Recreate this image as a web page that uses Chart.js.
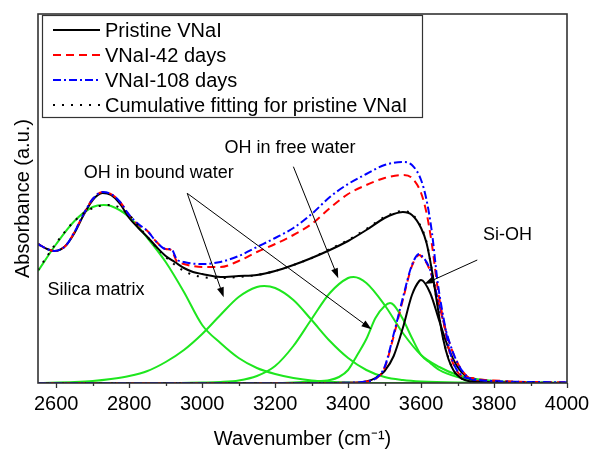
<!DOCTYPE html>
<html><head><meta charset="utf-8">
<script src="https://cdn.jsdelivr.net/npm/chart.js@4.4.1/dist/chart.umd.min.js"></script>
<style>html,body{margin:0;padding:0;background:#fff}</style>
</head><body>
<canvas id="c" width="589" height="451" style="display:block"></canvas>
<script>
// ---------- data (absorbance, a.u.) ----------
const pristineWn = [2550,2575,2595,2625,2650,2675,2700,2727,2750,2775,2800,2825,2850,2875,2900,2925,2950,2975,3000,3050,3100,3150,3200,3250,3300,3350,3400,3450,3500,3525,3550,3575,3600,3615,3630,3645,3660,3675,3690,3705,3720,3740,3800,4000];
const pristineAbs = [1.39,1.34,1.32,1.37,1.50,1.68,1.83,1.90,1.88,1.79,1.65,1.55,1.46,1.36,1.27,1.21,1.15,1.11,1.09,1.06,1.07,1.08,1.12,1.18,1.25,1.33,1.42,1.53,1.65,1.69,1.71,1.68,1.55,1.40,1.12,0.77,0.45,0.24,0.12,0.06,0.03,0.013,0.005,0];

const agedWn = [2550,2575,2595,2625,2650,2675,2700,2727,2750,2775,2800,2825,2850,2875,2900,2915,2930,2950,3000,3050,3100,3150,3200,3250,3300,3350,3400,3450,3500,3550,3575,3600,3615,3630,3645,3665,3680,3695,3710,3725,3740,3760,3800,3850,3900,4000];
const days42Abs = [1.39,1.34,1.32,1.37,1.51,1.69,1.84,1.91,1.89,1.81,1.68,1.58,1.52,1.41,1.34,1.33,1.22,1.19,1.16,1.16,1.22,1.31,1.39,1.48,1.59,1.75,1.89,1.98,2.05,2.08,2.05,1.90,1.70,1.38,0.96,0.55,0.28,0.14,0.07,0.05,0.05,0.035,0.025,0.015,0.01,0.008];
const days108Abs = [1.39,1.34,1.32,1.37,1.51,1.69,1.84,1.91,1.89,1.81,1.68,1.59,1.52,1.41,1.34,1.34,1.24,1.21,1.19,1.21,1.27,1.36,1.45,1.55,1.69,1.86,1.99,2.09,2.18,2.21,2.18,2.03,1.83,1.50,1.02,0.58,0.30,0.15,0.08,0.05,0.045,0.03,0.02,0.013,0.01,0.008];

const fitWn = [2550,2600,2650,2700,2750,2800,2825,2850,2900,2950,3000,3050,3100,3150,3200,3250,3300,3350,3400,3450,3500,3550,3575,3600,3615,3630,3645,3660,3675,3690,3705,3720,3740,3800,4000];
const fitAbs = [1.13,1.40,1.62,1.75,1.78,1.68,1.57,1.46,1.26,1.12,1.06,1.05,1.06,1.08,1.12,1.18,1.25,1.34,1.43,1.54,1.66,1.72,1.69,1.56,1.41,1.12,0.78,0.46,0.25,0.12,0.06,0.03,0.01,0.005,0];

// fitted components
const silicaWn = [2550,2600,2650,2700,2730,2750,2800,2850,2900,2950,3000,3050,3100,3150,3200,3250,3300,3350,3400,3500,4000];
const silicaAbs = [1.12,1.39,1.62,1.76,1.78,1.77,1.66,1.45,1.21,0.91,0.58,0.40,0.25,0.15,0.09,0.05,0.025,0.012,0.005,0,0];

const boundWn = [2550,2650,2700,2750,2800,2850,2900,2950,3000,3050,3100,3150,3170,3200,3250,3300,3350,3400,3450,3500,3550,3600,3700,4000];
const boundAbs = [0,0.01,0.02,0.04,0.07,0.12,0.21,0.33,0.49,0.68,0.86,0.96,0.97,0.95,0.83,0.63,0.42,0.25,0.13,0.06,0.03,0.015,0.005,0];

const freeWn = [2550,2900,3000,3050,3100,3150,3200,3250,3300,3350,3400,3415,3450,3500,3550,3600,3650,3700,3750,3800,3900,4000];
const freeAbs = [0,0,0.005,0.01,0.025,0.07,0.17,0.37,0.64,0.90,1.05,1.06,1.00,0.78,0.50,0.28,0.16,0.08,0.04,0.02,0.005,0];

const bound2Wn = [2550,3200,3250,3300,3350,3375,3400,3425,3450,3475,3500,3515,3525,3550,3575,3600,3625,3650,3700,3750,3800,3900,4000];
const bound2Abs = [0,0,0.005,0.015,0.03,0.06,0.13,0.28,0.44,0.65,0.77,0.80,0.78,0.64,0.45,0.28,0.20,0.13,0.06,0.03,0.015,0.005,0];

const siohWn = [2550,3300,3400,3450,3475,3500,3525,3550,3575,3595,3600,3625,3650,3675,3700,3725,3750,3800,4000];
const siohPristine = [0,0,0.002,0.015,0.05,0.12,0.27,0.55,0.88,1.02,1.03,0.90,0.62,0.35,0.16,0.06,0.02,0.003,0];
const siohDays42 = [0,0,0.003,0.015,0.04,0.15,0.47,0.83,1.17,1.28,1.27,1.12,0.77,0.43,0.20,0.07,0.02,0.004,0];
const siohDays108 = [0,0,0.003,0.015,0.045,0.16,0.49,0.85,1.18,1.29,1.28,1.13,0.78,0.44,0.20,0.07,0.02,0.004,0];

const xMajorTicks = [2600,2800,3000,3200,3400,3600,3800,4000];
const xMinorTicks = [2600,2700,2800,2900,3000,3100,3200,3300,3400,3500,3600,3700,3800,3900,4000];

const seriesLabels = ['Pristine VNaI','VNaI-42 days','VNaI-108 days','Cumulative fitting for pristine VNaI'];

// annotations (text and arrows, in data coordinates)
const noteTexts = ['Silica matrix','OH in bound water','OH in free water','Si-OH'];
const noteWn = [2576, 2881, 3241, 3837];
const noteAbs = [0.93, 2.10, 2.35, 1.48];
const arrowFrom = [[2959,1.897],[2959,1.897],[3250,2.163],[3754,1.23]];
const arrowTo = [[3059,0.857],[3464,0.537],[3373,1.047],[3609,0.99]];

// ---------- chart ----------
const FONT = '"Liberation Sans", Arial, Helvetica, sans-serif';
const pts = (xs, ys) => xs.map((x, i) => ({x, y: ys[i]}));
const GREEN = '#1ee61e';

function line(label, xs, ys, color, dash, width) {
  return {label, data: pts(xs, ys), borderColor: color, backgroundColor: color,
    borderWidth: width || 2, borderDash: dash || [], pointRadius: 0, fill: false,
    cubicInterpolationMode: 'monotone', borderCapStyle: 'butt'};
}

const DOT = [2, 7], DASH = [8, 5], DASHDOT = [8, 3, 2, 3];
const datasets = [
  line(seriesLabels[3], fitWn, fitAbs, '#000', DOT, 2),
  line(seriesLabels[2], agedWn, days108Abs, '#0000ff', DASHDOT, 2),
  line(seriesLabels[1], agedWn, days42Abs, '#ff0000', DASH, 2),
  line(seriesLabels[0], pristineWn, pristineAbs, '#000', [], 2),
  line('Si-OH 108 days', siohWn, siohDays108, '#0000ff', DASHDOT, 2),
  line('Si-OH 42 days', siohWn, siohDays42, '#ff0000', DASH, 2),
  line('Si-OH pristine', siohWn, siohPristine, '#000', [], 2),
  line('Silica matrix', silicaWn, silicaAbs, GREEN, [], 2),
  line('OH bound water 1', boundWn, boundAbs, GREEN, [], 2),
  line('OH free water', freeWn, freeAbs, GREEN, [], 2),
  line('OH bound water 2', bound2Wn, bound2Abs, GREEN, [], 2)
];
const legendOrder = [3, 2, 1, 0];

function arrow(ctx, x1, y1, x2, y2) {
  const a = Math.atan2(y2 - y1, x2 - x1), L = 10, W = 3.5;
  const c = Math.cos(a), s = Math.sin(a);
  ctx.beginPath(); ctx.moveTo(x1, y1); ctx.lineTo(x2 - L * c * 0.7, y2 - L * s * 0.7); ctx.stroke();
  ctx.beginPath(); ctx.moveTo(x2, y2);
  ctx.lineTo(x2 - L * c + W * s, y2 - L * s - W * c);
  ctx.lineTo(x2 - L * c - W * s, y2 - L * s + W * c);
  ctx.closePath(); ctx.fill();
}

const deco = {
  id: 'deco',
  afterDraw(chart) {
    const ctx = chart.ctx, a = chart.chartArea, xs = chart.scales.x, ys = chart.scales.y;
    ctx.save();
    // annotations
    ctx.fillStyle = '#000'; ctx.strokeStyle = '#000'; ctx.lineWidth = 1;
    ctx.font = '18px ' + FONT; ctx.textBaseline = 'middle';
    noteTexts.forEach((t, i) => {
      ctx.textAlign = i === 0 ? 'left' : 'center';
      ctx.fillText(t, xs.getPixelForValue(noteWn[i]), ys.getPixelForValue(noteAbs[i]));
    });
    arrowFrom.forEach((f, i) => {
      const t = arrowTo[i];
      arrow(ctx, xs.getPixelForValue(f[0]), ys.getPixelForValue(f[1]), xs.getPixelForValue(t[0]), ys.getPixelForValue(t[1]));
    });
    // frame
    ctx.strokeStyle = '#333'; ctx.lineWidth = 1.6;
    ctx.strokeRect(a.left, a.top, a.right - a.left, a.bottom - a.top);
    // ticks (outward)
    ctx.lineWidth = 1.3;
    xMinorTicks.forEach(v => {
      const px = Math.round(xs.getPixelForValue(v)) + 0.5;
      const len = xMajorTicks.includes(v) ? 5 : 3;
      ctx.beginPath(); ctx.moveTo(px, a.bottom); ctx.lineTo(px, a.bottom + len); ctx.stroke();
    });
    // legend
    const lx = a.left + 4, ly = a.top + 1, lw = 380, lh = 102;
    ctx.fillStyle = '#fff'; ctx.fillRect(lx, ly, lw, lh);
    ctx.strokeStyle = '#333'; ctx.lineWidth = 1.2; ctx.strokeRect(lx + 0.5, ly + 0.5, lw, lh);
    ctx.font = '20px ' + FONT; ctx.textAlign = 'left'; ctx.textBaseline = 'middle';
    legendOrder.forEach((di, r) => {
      const ds = chart.data.datasets[di];
      const cy = ly + 15 + r * 25;
      ctx.strokeStyle = ds.borderColor; ctx.lineWidth = 2; ctx.setLineDash(ds.borderDash);
      ctx.beginPath(); ctx.moveTo(lx + 11, cy); ctx.lineTo(lx + 58, cy); ctx.stroke();
      ctx.setLineDash([]);
      ctx.fillStyle = '#000'; ctx.fillText(ds.label, lx + 63, cy + 1);
    });
    ctx.restore();
  }
};

new Chart(document.getElementById('c'), {
  type: 'line',
  data: {datasets},
  options: {
    responsive: false, animation: false, events: [],
    layout: {padding: {top: 14, right: 22, left: 0, bottom: 0}},
    plugins: {legend: {display: false}, tooltip: {enabled: false}},
    scales: {
      x: {type: 'linear', min: 2550, max: 4000,
        afterBuildTicks: s => { s.ticks = xMajorTicks.map(v => ({value: v})); },
        afterFit: s => { s.height = 68; s.paddingLeft = 0; s.paddingRight = 0; },
        grid: {display: false, drawTicks: false}, border: {display: false},
        ticks: {autoSkip: false, maxRotation: 0, padding: 9, color: '#000', font: {family: FONT, size: 20},
          callback: v => String(v)},
        title: {display: true, text: 'Wavenumber (cm\u207B\u00B9)', color: '#000', padding: {top: 0, bottom: 0}, font: {family: FONT, size: 20}}
      },
      y: {min: 0, max: 3.69,
        afterFit: s => { s.width = 38; s.paddingTop = 0; s.paddingBottom = 0; },
        grid: {display: false, drawTicks: false}, border: {display: false},
        ticks: {display: false},
        title: {display: true, text: 'Absorbance (a.u.)', color: '#000', padding: {top: 11, bottom: 0}, font: {family: FONT, size: 20}}
      }
    }
  },
  plugins: [deco]
});
</script>
</body></html>
